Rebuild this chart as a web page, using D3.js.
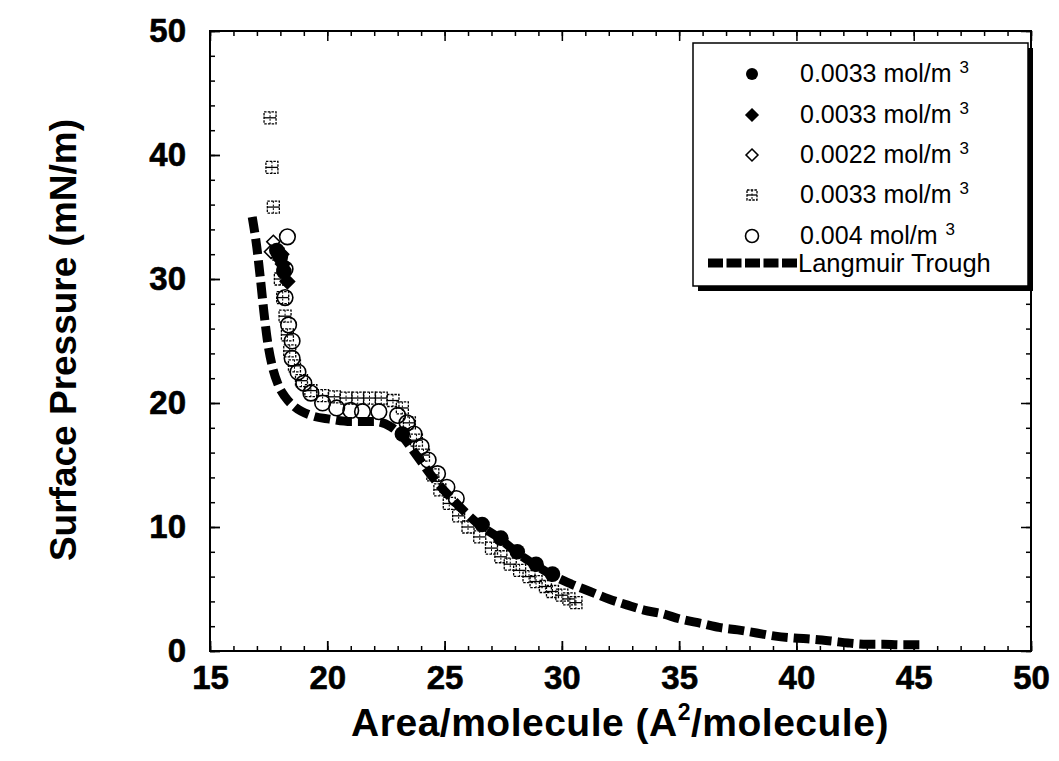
<!DOCTYPE html>
<html>
<head>
<meta charset="utf-8">
<script src="https://cdn.jsdelivr.net/npm/d3@7"></script>
<style>
  body { margin: 0; background: #fff; }
  text { font-family: "Liberation Sans", Arial, Helvetica, sans-serif; }
</style>
</head>
<body>
<div id="chart"></div>
<script>
// Langmuir trough isotherm (thick dashed curve)
var troughX = [16.8, 17.0, 17.15, 17.3, 17.45, 17.65, 17.9, 18.2, 18.6, 19.3, 20.1, 21.0, 22.0, 22.7, 23.2, 23.8, 24.5, 25.3, 26.4, 27.4, 28.1, 28.9, 29.6, 30.4, 31.2, 32.0, 32.8, 33.5, 34.3, 35.0, 36.0, 36.7, 37.5, 38.3, 39.1, 39.9, 40.7, 41.5, 42.2, 43.0, 43.7, 44.4, 45.3];
var troughY = [35.0, 32.5, 30.0, 27.3, 25.0, 23.0, 21.5, 20.5, 19.7, 19.0, 18.7, 18.5, 18.5, 18.1, 17.3, 15.8, 14.0, 12.3, 10.3, 9.0, 7.9, 6.9, 6.1, 5.4, 4.8, 4.2, 3.7, 3.3, 3.0, 2.6, 2.2, 1.9, 1.7, 1.45, 1.2, 1.05, 0.95, 0.8, 0.65, 0.55, 0.55, 0.5, 0.5];

// 0.0033 mol/m3, filled circles
var fcX = [17.85, 18.0, 18.15, 23.2, 26.6, 27.4, 28.1, 28.9, 29.6];
var fcY = [32.3, 31.8, 30.6, 17.5, 10.2, 9.1, 8.0, 7.0, 6.2];
// 0.0033 mol/m3, filled diamonds
var fdX = [18.05, 18.1, 18.3];
var fdY = [32.0, 31.2, 29.8];
// 0.0022 mol/m3, open diamonds
var odX = [17.6, 17.7];
var odY = [32.2, 33.0];
// 0.0033 mol/m3, boxed crosses
var bxX = [17.56, 17.64, 17.7, 17.9, 18.0, 18.1, 18.2, 18.3, 18.4, 18.6, 18.9, 19.3, 19.8, 20.3, 20.8, 21.3, 21.8, 22.3, 22.8, 23.2, 23.5, 23.8, 24.1, 24.5, 24.8, 25.2, 25.6, 26.0, 26.5, 27.0, 27.4, 27.8, 28.2, 28.6, 28.9, 29.3, 29.6, 30.0, 30.3, 30.6];
var bxY = [43.0, 39.0, 35.8, 32.0, 30.0, 28.5, 27.0, 25.5, 24.2, 23.0, 21.8, 21.0, 20.6, 20.5, 20.4, 20.4, 20.4, 20.4, 20.2, 19.6, 18.4, 17.0, 15.8, 14.2, 13.0, 11.9, 10.9, 10.0, 9.2, 8.3, 7.6, 7.0, 6.5, 6.0, 5.6, 5.2, 4.8, 4.5, 4.2, 3.9];
// 0.004 mol/m3, open circles
var ocX = [18.3, 18.2, 18.2, 18.35, 18.5, 18.5, 18.75, 19.0, 19.3, 19.8, 20.4, 21.0, 21.5, 22.2, 23.0, 23.4, 23.7, 24.0, 24.3, 24.7, 25.1, 25.5];
var ocY = [33.4, 30.8, 28.5, 26.3, 25.0, 23.6, 22.5, 21.6, 20.8, 20.0, 19.6, 19.4, 19.3, 19.3, 19.0, 18.4, 17.5, 16.5, 15.4, 14.3, 13.2, 12.3];

var xTicks = [15, 20, 25, 30, 35, 40, 45, 50];
var yTicks = [0, 10, 20, 30, 40, 50];
var legendLabels = ["0.0033 mol/m", "0.0033 mol/m", "0.0022 mol/m", "0.0033 mol/m", "0.004 mol/m", "Langmuir Trough"];

var W = 1059, H = 761;
var svg = d3.select("#chart").append("svg")
    .attr("width", W).attr("height", H);
svg.append("rect").attr("width", W).attr("height", H).attr("fill", "#fff");

var x = d3.scaleLinear().domain([15, 50]).range([210, 1031]);
var y = d3.scaleLinear().domain([0, 50]).range([651, 31]);

// minor ticks on all four sides (inward)
var xMinor = d3.range(15, 51, 1), yMinor = d3.range(0, 51, 2);
function tickAxes(gen, vals, size, tr) {
  var g = svg.append("g").attr("transform", tr)
    .call(gen.tickValues(vals).tickSize(size).tickFormat(""));
  g.select(".domain").remove();
  g.selectAll("line").attr("stroke", "#000").attr("stroke-width", 1.5);
  return g;
}
tickAxes(d3.axisBottom(x), xMinor, -5, "translate(0,651)");
tickAxes(d3.axisTop(x), xMinor, -5, "translate(0,31)");
tickAxes(d3.axisLeft(y), yMinor, -5, "translate(210,0)");
tickAxes(d3.axisRight(y), yMinor, -5, "translate(1031,0)");
tickAxes(d3.axisTop(x), xTicks, -10, "translate(0,31)");
tickAxes(d3.axisRight(y), yTicks, -10, "translate(1031,0)");

var gx = svg.append("g").attr("transform", "translate(0,651)")
  .call(d3.axisBottom(x).tickValues(xTicks).tickSize(-10).tickPadding(15));
var gy = svg.append("g").attr("transform", "translate(210,0)")
  .call(d3.axisLeft(y).tickValues(yTicks).tickSize(-10).tickPadding(24));
[gx, gy].forEach(function(g) {
  g.select(".domain").remove();
  g.selectAll("line").attr("stroke", "#000").attr("stroke-width", 1.8);
  g.selectAll("text").attr("font-size", 33).attr("font-weight", "bold")
    .attr("fill", "#000").style("font-family", "'Liberation Sans', Arial, sans-serif")
    .attr("stroke", "#000").attr("stroke-width", 0.6);
});

svg.append("rect").attr("x", 210).attr("y", 31)
  .attr("width", 821).attr("height", 620)
  .attr("fill", "none").attr("stroke", "#000").attr("stroke-width", 2);

// trough curve
var line = d3.line().x(function(d) { return x(d[0]); }).y(function(d) { return y(d[1]); })
  .curve(d3.curveMonotoneX);
svg.append("path")
  .attr("d", line(d3.zip(troughX, troughY)))
  .attr("fill", "none").attr("stroke", "#000")
  .attr("stroke-width", 9).attr("stroke-dasharray", "16,6");

// markers
function marker(g, type, s) {
  if (type == "fc") {
    g.append("circle").attr("r", s * 0.6).attr("fill", "#000");
  } else if (type == "oc") {
    g.append("circle").attr("r", s * 0.65).attr("fill", "none").attr("stroke", "#000").attr("stroke-width", 1.6);
  } else if (type == "fd" || type == "od") {
    var p = d3.symbol().type(d3.symbolDiamond2).size(s * s * 0.9)();
    g.append("path").attr("d", p)
      .attr("fill", type == "fd" ? "#000" : "none")
      .attr("stroke", "#000").attr("stroke-width", 1.6);
  } else if (type == "bx") {
    var h = s * 0.5;
    g.append("rect").attr("x", -h).attr("y", -h).attr("width", 2 * h).attr("height", 2 * h)
      .attr("fill", "none").attr("stroke", "#000").attr("stroke-width", 1.3)
      .attr("stroke-dasharray", "2.5,1.2");
    g.append("line").attr("x1", -h).attr("x2", h).attr("stroke", "#000").attr("stroke-width", 1.3);
    g.append("line").attr("y1", -h).attr("y2", h).attr("stroke", "#000").attr("stroke-width", 1).attr("stroke-dasharray", "2,1.5");
  }
}
var series = [
  {t: "bx", xs: bxX, ys: bxY, s: 12},
  {t: "oc", xs: ocX, ys: ocY, s: 12},
  {t: "od", xs: odX, ys: odY, s: 11},
  {t: "fd", xs: fdX, ys: fdY, s: 12},
  {t: "fc", xs: fcX, ys: fcY, s: 13}
];
series.forEach(function(sr) {
  var pts = d3.zip(sr.xs, sr.ys);
  svg.append("g").selectAll("g").data(pts).enter().append("g")
    .attr("transform", function(d) { return "translate(" + x(d[0]) + "," + y(d[1]) + ")"; })
    .each(function() { marker(d3.select(this), sr.t, sr.s); });
});

// legend
var lg = svg.append("g");
lg.append("rect").attr("x", 698).attr("y", 48).attr("width", 335).attr("height", 243).attr("fill", "#000");
lg.append("rect").attr("x", 693).attr("y", 43).attr("width", 335).attr("height", 243)
  .attr("fill", "#fff").attr("stroke", "#000").attr("stroke-width", 1.5);
var rowY = [74, 115, 155, 195, 236, 263];
var legTypes = ["fc", "fd", "od", "bx", "oc"];
legTypes.forEach(function(t, i) {
  var g = lg.append("g").attr("transform", "translate(752," + rowY[i] + ")");
  marker(g, t, 10);
  var tx = lg.append("text").attr("x", 800).attr("y", rowY[i] + 8)
    .attr("font-size", 25).attr("fill", "#000").text(legendLabels[i]);
  tx.append("tspan").attr("dx", 8).attr("dy", -9).attr("font-size", 17).text("3");
});
lg.append("line").attr("x1", 708).attr("x2", 797).attr("y1", rowY[5]).attr("y2", rowY[5])
  .attr("stroke", "#000").attr("stroke-width", 9).attr("stroke-dasharray", "15,3.5");
lg.append("text").attr("x", 798).attr("y", rowY[5] + 9)
  .attr("font-size", 25.5).attr("fill", "#000").text(legendLabels[5]);

// axis titles
var xt = svg.append("text").attr("x", 620).attr("y", 736).attr("text-anchor", "middle")
  .attr("font-size", 39).attr("font-weight", "bold").attr("letter-spacing", 0.5)
  .attr("fill", "#000");
xt.append("tspan").text("Area/molecule (A");
xt.append("tspan").attr("dy", -16).attr("font-size", 23).text("2");
xt.append("tspan").attr("dy", 16).text("/molecule)");

svg.append("text").attr("transform", "translate(76,340) rotate(-90)")
  .attr("text-anchor", "middle").attr("font-size", 37).attr("font-weight", "bold")
  .attr("fill", "#000").text("Surface Pressure (mN/m)");
</script>
</body>
</html>
